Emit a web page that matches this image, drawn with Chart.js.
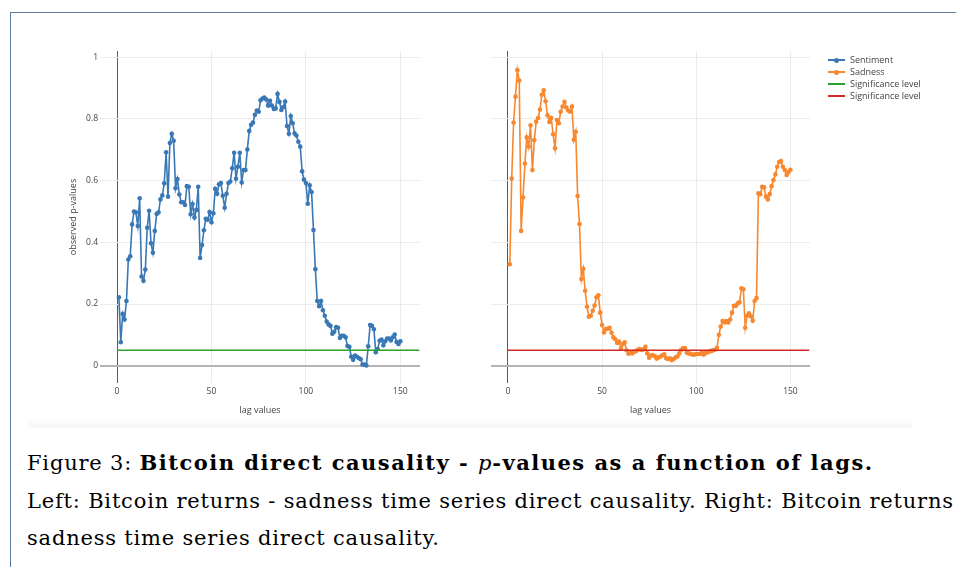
<!DOCTYPE html>
<html>
<head>
<meta charset="utf-8">
<script src="https://cdn.jsdelivr.net/npm/chart.js"></script>
<style>
    html, body { margin: 0; padding: 0; background: #fff; width: 956px; height: 567px; overflow: hidden; }
    #frame { position: absolute; left: 10px; top: 12px; width: 1000px; height: 600px;
             border-top: 1px solid #5b7ea2; border-left: 1px solid #5b7ea2; }
    #shade { position: absolute; left: 28px; top: 417px; width: 884px; height: 11px;
             background: linear-gradient(to bottom, #ffffff, #f6f6f6); }
    #leftChart { position: absolute; left: 0; top: 0; }
    #rightChart { position: absolute; left: 440px; top: 0; }
    #legend { position: absolute; left: 828px; top: 54px; font-family: "Open Sans", sans-serif;
              font-size: 9px; color: #444; }
    .item { height: 12px; line-height: 12px; white-space: nowrap; }
    .sym { display: inline-block; position: relative; width: 17px; height: 12px; vertical-align: top; margin-right: 5px; }
    .sym .ln { position: absolute; left: 0; top: 5px; width: 17px; height: 2px; }
    .sym .dot { position: absolute; left: 6px; top: 3.5px; width: 5px; height: 5px; border-radius: 50%; }
    #caption { position: absolute; left: 27px; top: 444px; font-family: "DejaVu Serif", serif;
               font-size: 21px; line-height: 37.5px; color: #000; white-space: nowrap; letter-spacing: 0.8px; }
    #caption b { letter-spacing: 1.5px; }
</style>
</head>
<body>
<div id="frame"></div>
<div id="shade"></div>
<canvas id="leftChart" width="440" height="430"></canvas>
<canvas id="rightChart" width="516" height="430"></canvas>
<div id="legend"></div>
<div id="caption">
    <div>Figure 3: <b>Bitcoin direct causality - </b><i>p</i><b>-values as a function of lags.</b></div>
    <div>Left: Bitcoin returns - sadness time series direct causality. Right: Bitcoin returns - </div>
    <div>sadness time series direct causality.</div>
</div>
<script>
// lags 1..150 (categories)
const lags = Array.from({ length: 150 }, (_, i) => i + 1);

// p-values
const sentiment = [
    .222, .076, .168, .150, .210, .344, .355, .458, .500, .497,
    .453, .543, .289, .275, .312, .447, .502, .397, .366, .437,
    .492, .497, .539, .552, .591, .692, .548, .722, .752, .729,
    .575, .605, .555, .530, .530, .521, .582, .580, .491, .524,
    .480, .505, .580, .349, .391, .439, .476, .473, .498, .465,
    .494, .573, .557, .588, .592, .551, .512, .557, .592, .597,
    .640, .690, .606, .645, .690, .594, .634, .634, .701, .761,
    .781, .788, .813, .827, .823, .860, .866, .869, .863, .843,
    .859, .843, .832, .834, .881, .855, .829, .838, .856, .777,
    .752, .809, .786, .753, .746, .726, .710, .630, .603, .592,
    .525, .585, .563, .440, .313, .210, .193, .210, .180, .162,
    .143, .134, .129, .104, .110, .125, .123, .090, .097, .097,
    .092, .064, .061, .029, .019, .033, .029, .025, .021, .004,
    .004, .001, .063, .132, .129, .118, .044, .054, .081, .085,
    .066, .079, .088, .088, .082, .092, .101, .077, .070, .079
];

const sadness = [
    .329, .607, .788, .872, .958, .924, .437, .545, .655, .740,
    .710, .779, .634, .731, .791, .803, .830, .878, .893, .857,
    .812, .790, .803, .750, .705, .796, .786, .823, .840, .855,
    .837, .827, .823, .840, .732, .758, .550, .459, .281, .314,
    .243, .191, .159, .162, .178, .195, .222, .228, .172, .132,
    .108, .119, .120, .123, .107, .092, .086, .074, .078, .055,
    .070, .076, .050, .039, .044, .040, .045, .047, .052, .054,
    .051, .053, .061, .040, .026, .033, .034, .031, .023, .027,
    .030, .034, .037, .024, .022, .024, .018, .022, .027, .030,
    .040, .052, .057, .057, .042, .040, .038, .036, .036, .038,
    .038, .038, .042, .036, .041, .044, .046, .048, .050, .052,
    .058, .100, .127, .145, .140, .145, .140, .150, .172, .194,
    .194, .202, .206, .251, .248, .123, .162, .170, .160, .146,
    .210, .219, .559, .556, .580, .578, .548, .539, .556, .582,
    .602, .620, .645, .660, .663, .645, .634, .618, .628, .635
];

const significance = 0.05;
const sigRange = [0, 160];

const xTicks = [0, 50, 100, 150];
const yTicks = [0, 0.2, 0.4, 0.6, 0.8, 1];

const FONT = '"Open Sans", sans-serif';
const TXT = '#444';

function seriesDataset(label, values, color) {
    return {
        label: label,
        data: values.map((v, i) => ({ x: lags[i], y: v })),
        borderColor: color,
        backgroundColor: color,
        borderWidth: 1.6,
        pointRadius: 2.3,
        pointBorderWidth: 0,
        tension: 0
    };
}

function sigDataset(color) {
    return {
        label: 'Significance level',
        data: sigRange.map(x => ({ x: x, y: significance })),
        borderColor: color,
        backgroundColor: color,
        borderWidth: 1.5,
        pointRadius: 0
    };
}

function makeOptions(isLeft) {
    return {
        responsive: false,
        animation: false,
        events: [],
        layout: {
            padding: isLeft
                ? { left: 60, top: 51, right: 20, bottom: 0 }
                : { left: 0, top: 51, right: 146, bottom: 0 }
        },
        plugins: { legend: { display: false }, tooltip: { enabled: false } },
        scales: {
            x: {
                type: 'linear',
                min: -9,
                max: 160.4,
                afterBuildTicks: s => { s.ticks = xTicks.map(v => ({ value: v })); },
                afterFit: s => { s.height = 47; },
                border: { display: false },
                grid: {
                    drawTicks: false,
                    color: c => (c.tick && c.tick.value === 0) ? '#5a5a5a' : '#ececec',
                    lineWidth: 1
                },
                ticks: { padding: 3, color: TXT, font: { family: FONT, size: 8.5 }, maxRotation: 0, autoSkip: false },
                title: {
                    display: true, text: 'lag values', color: TXT,
                    font: { family: FONT, size: 9 }, padding: { top: 0, bottom: 14 }
                }
            },
            y: {
                min: -0.056,
                max: 1.02,
                afterBuildTicks: s => { s.ticks = yTicks.map(v => ({ value: v })); },
                afterFit: s => { s.width = isLeft ? 40 : 51; },
                border: { display: false },
                grid: {
                    drawTicks: false,
                    color: c => (c.tick && c.tick.value === 0) ? '#b4b4b4' : '#ececec',
                    lineWidth: c => (c.tick && c.tick.value === 0) ? 2 : 1
                },
                ticks: {
                    display: isLeft, padding: 2, color: TXT, font: { family: FONT, size: 8.5 },
                    callback: v => String(v)
                },
                title: {
                    display: isLeft, text: 'observed p-values', color: TXT,
                    font: { family: FONT, size: 9 }, padding: { top: 8, bottom: 0 }
                }
            }
        }
    };
}

const leftChart = new Chart(document.getElementById('leftChart'), {
    type: 'line',
    data: { datasets: [sigDataset('#2ca02c'), seriesDataset('Sentiment', sentiment, '#3a78b5')] },
    options: makeOptions(true)
});

const rightChart = new Chart(document.getElementById('rightChart'), {
    type: 'line',
    data: { datasets: [sigDataset('#d62728'), seriesDataset('Sadness', sadness, '#f7882f')] },
    options: makeOptions(false)
});

// html legend, built from the chart datasets
const legendItems = [
    leftChart.data.datasets[1],
    rightChart.data.datasets[1],
    leftChart.data.datasets[0],
    rightChart.data.datasets[0]
];
const legendEl = document.getElementById('legend');
legendItems.forEach(ds => {
    const row = document.createElement('div');
    row.className = 'item';
    const sym = document.createElement('span');
    sym.className = 'sym';
    const ln = document.createElement('span');
    ln.className = 'ln';
    ln.style.background = ds.borderColor;
    sym.appendChild(ln);
    if (ds.pointRadius > 0) {
        const dot = document.createElement('span');
        dot.className = 'dot';
        dot.style.background = ds.borderColor;
        sym.appendChild(dot);
    }
    row.appendChild(sym);
    row.appendChild(document.createTextNode(ds.label));
    legendEl.appendChild(row);
});
</script>
</body>
</html>
